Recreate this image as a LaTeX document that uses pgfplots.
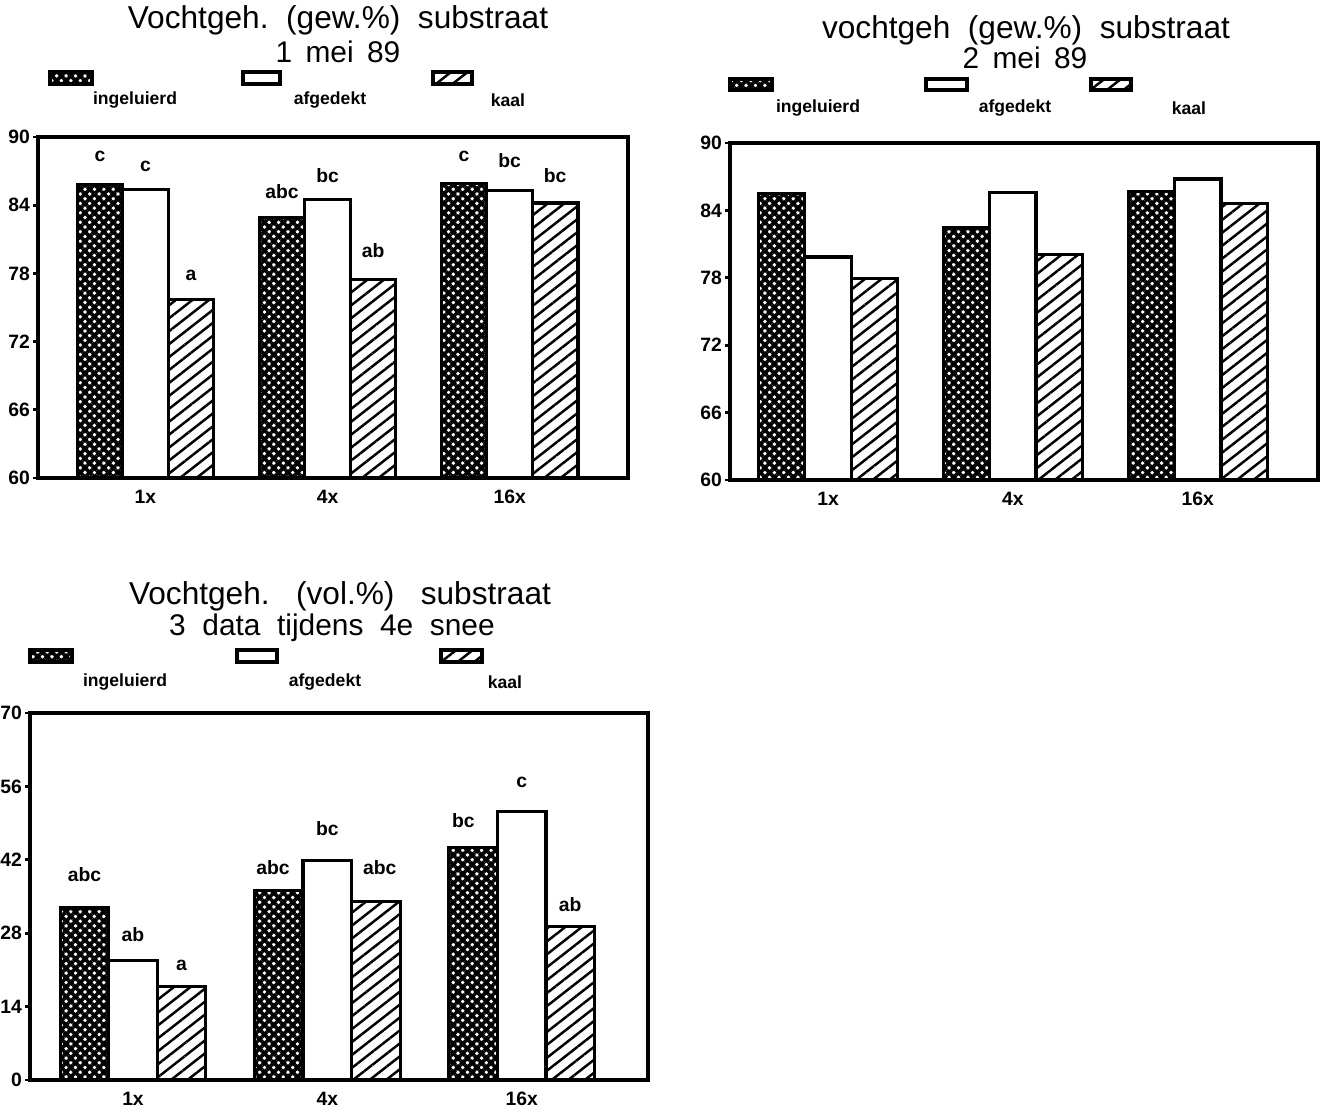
\documentclass[border=0pt]{standalone}
\usepackage{fontspec}
\setmainfont{Liberation Sans}
\usepackage{pgfplots}
\pgfplotsset{compat=1.18}
\usetikzlibrary{patterns.meta}

\tikzset{
 ing/.style={pattern={Hatch[angle=45,distance=1.9pt,line width=1.05pt]}},
 kaal/.style={pattern={Lines[angle=38,distance=2.9pt,line width=0.7pt]}},
 ttl/.style={font=\fontsize{9}{10}\selectfont, inner sep=0pt},
 sub/.style={font=\fontsize{8.5}{9}\selectfont, inner sep=0pt},
 leg/.style={font=\fontsize{5}{6}\selectfont\bfseries, inner sep=0pt},
 lbl/.style={font=\fontsize{5.5}{6}\selectfont\bfseries, inner sep=0pt},
 key/.style={draw=black, line width=1pt},
}
\pgfplotsset{panel/.style={
 scale only axis, ybar=0pt, bar width=0.25,
 xmin=-0.53, xmax=2.65, xtick={0,1,2}, xticklabels={1x,4x,16x},
 axis line style={line width=1pt},
 every axis plot/.append style={line width=0.9pt, draw=black},
 tick label style={font=\fontsize{5.5}{6}\selectfont\bfseries},
 /pgf/number format/assume math mode=true,
 xtick style={draw=none},
 ytick style={line width=0.8pt, black},
 tick align=outside, major tick length=1.3pt, tick pos=left,
 xticklabel style={yshift=1.5pt},
 yticklabel style={xshift=2.5pt},
 anchor=south west,
}}

\begin{document}
\begin{tikzpicture}
\useasboundingbox (0,0) rectangle (13.24,11.10);

% ---------- Panel 1 ----------
\node[ttl] at (3.38,10.90) {Vochtgeh.\ \ (gew.\%)\ \ substraat};
\node[sub] at (3.38,10.58) {1\ \,mei\ \,89};
\draw[key,ing] (0.50,10.26) rectangle (0.92,10.38);
\draw[key,fill=white] (2.43,10.26) rectangle (2.80,10.38);
\draw[key,kaal] (4.33,10.26) rectangle (4.72,10.38);
\node[leg] at (1.35,10.10) {ingeluierd};
\node[leg] at (3.30,10.10) {afgedekt};
\node[leg] at (5.08,10.10) {kaal};
\begin{axis}[panel, at={(0.38cm,6.32cm)}, width=5.90cm, height=3.41cm,
  xmin=-0.59, ymin=60, ymax=90, ytick={60,66,72,78,84,90}]
\addplot[ing] coordinates {(0,85.8) (1,82.9) (2,85.9)};
\addplot[fill=white] coordinates {(0,85.35) (1,84.5) (2,85.3)};
\addplot[kaal] coordinates {(0,75.7) (1,77.5) (2,84.2)};
\node[lbl] at (axis cs:-0.25,88.3) {c};
\node[lbl] at (axis cs:0,87.4) {c};
\node[lbl] at (axis cs:0.25,77.8) {a};
\node[lbl] at (axis cs:0.75,85.2) {abc};
\node[lbl] at (axis cs:1,86.6) {bc};
\node[lbl] at (axis cs:1.25,80.0) {ab};
\node[lbl] at (axis cs:1.75,88.3) {c};
\node[lbl] at (axis cs:2,87.9) {bc};
\node[lbl] at (axis cs:2.25,86.6) {bc};
\end{axis}

% ---------- Panel 2 ----------
\node[ttl] at (10.26,10.80) {vochtgeh\ \ (gew.\%)\ \ substraat};
\node[sub] at (10.25,10.52) {2\ \,mei\ \,89};
\draw[key,ing] (7.30,10.20) rectangle (7.72,10.31);
\draw[key,fill=white] (9.26,10.20) rectangle (9.67,10.31);
\draw[key,kaal] (10.91,10.20) rectangle (11.31,10.31);
\node[leg] at (8.18,10.02) {ingeluierd};
\node[leg] at (10.15,10.02) {afgedekt};
\node[leg] at (11.89,10.02) {kaal};
\begin{axis}[panel, at={(7.30cm,6.30cm)}, width=5.88cm, height=3.37cm,
  ymin=60, ymax=90, ytick={60,66,72,78,84,90}]
\addplot[ing] coordinates {(0,85.5) (1,82.5) (2,85.7)};
\addplot[fill=white] coordinates {(0,79.85) (1,85.6) (2,86.8)};
\addplot[kaal] coordinates {(0,77.95) (1,80.1) (2,84.6)};
\end{axis}

% ---------- Panel 3 ----------
\node[ttl] at (3.40,5.14) {Vochtgeh.\ \ \ (vol.\%)\ \ \ substraat};
\node[sub] at (3.32,4.82) {3\ \ data\ \ tijdens\ \ 4e\ \ snee};
\draw[key,ing] (0.30,4.48) rectangle (0.72,4.60);
\draw[key,fill=white] (2.37,4.48) rectangle (2.77,4.60);
\draw[key,kaal] (4.41,4.48) rectangle (4.82,4.60);
\node[leg] at (1.25,4.28) {ingeluierd};
\node[leg] at (3.25,4.28) {afgedekt};
\node[leg] at (5.05,4.28) {kaal};
\begin{axis}[panel, at={(0.30cm,0.30cm)}, width=6.18cm, height=3.67cm,
  ymin=0, ymax=70, ytick={0,14,28,42,56,70}]
\addplot[ing] coordinates {(0,32.8) (1,36.1) (2,44.3)};
\addplot[fill=white] coordinates {(0,22.8) (1,41.9) (2,51.2)};
\addplot[kaal] coordinates {(0,17.8) (1,34.1) (2,29.2)};
\node[lbl] at (axis cs:-0.25,39.2) {abc};
\node[lbl] at (axis cs:0,27.7) {ab};
\node[lbl] at (axis cs:0.25,21.9) {a};
\node[lbl] at (axis cs:0.72,40.6) {abc};
\node[lbl] at (axis cs:1,48.0) {bc};
\node[lbl] at (axis cs:1.27,40.6) {abc};
\node[lbl] at (axis cs:1.70,49.4) {bc};
\node[lbl] at (axis cs:2,56.7) {c};
\node[lbl] at (axis cs:2.25,33.5) {ab};
\end{axis}
\end{tikzpicture}
\end{document}
